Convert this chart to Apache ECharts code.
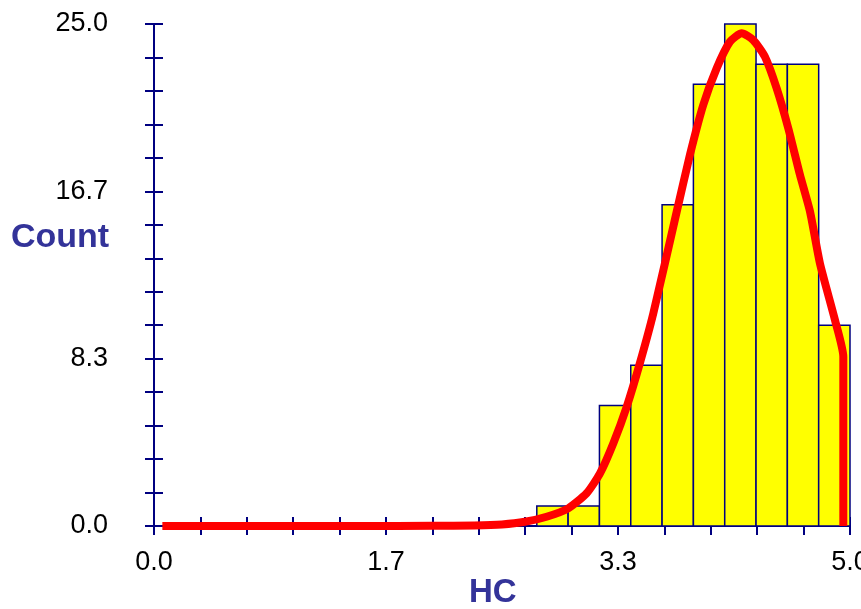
<!DOCTYPE html>
<html>
<head>
<meta charset="utf-8">
<script src="https://cdn.jsdelivr.net/npm/echarts@6/dist/echarts.min.js"></script>
<style>
  html, body { margin: 0; padding: 0; background: #ffffff; }
  #chart { width: 861px; height: 609px; }
</style>
</head>
<body>
<div id="chart"></div>
<script>
// Histogram bin edges and counts
const binEdges = [2.75, 2.975, 3.2, 3.425, 3.65, 3.875, 4.1, 4.325, 4.55, 4.775, 5.0];
const counts = [1, 1, 6, 8, 16, 22, 25, 23, 23, 10];

// Fitted curve
const curveX = [0.06, 0.5, 1.0, 1.5, 2.0, 2.3, 2.5, 2.665, 2.82, 2.976, 3.108, 3.204, 3.30, 3.396, 3.49, 3.587, 3.755, 3.85, 3.946, 4.042, 4.138, 4.222, 4.305, 4.389, 4.473, 4.557, 4.64, 4.713, 4.784, 4.892, 4.952, 4.952];
const curveY = [0, 0, 0, 0, 0.01, 0.03, 0.08, 0.21, 0.46, 0.88, 1.63, 2.62, 4.12, 5.94, 8.10, 10.59, 15.65, 18.48, 20.97, 22.79, 24.12, 24.54, 24.2, 23.37, 21.8, 19.8, 17.5, 15.65, 13.08, 10.26, 8.43, 0];

// Axis settings
const xMin = 0, xMax = 5, xLabelStep = 5 / 3;
const yMin = 0, yMax = 25, yLabelStep = 25 / 3;
const xTitle = 'HC';
const yTitle = 'Count';

const navy = '#000080';
const titleColor = '#333399';
const font = 'Liberation Sans, Arial, Helvetica, sans-serif';

const histData = counts.map((c, i) => [binEdges[i], binEdges[i + 1], c]);
const curveData = curveX.map((x, i) => [x, curveY[i]]);

const chart = echarts.init(document.getElementById('chart'));

function axisCommon(min, max, interval) {
  return {
    type: 'value', min: min, max: max, interval: interval,
    splitLine: { show: false },
    minorTick: { show: true, splitNumber: 5, length: 9, lineStyle: { color: navy, width: 2 } },
    minorSplitLine: { show: false }
  };
}

const option = {
  animation: false,
  backgroundColor: '#ffffff',
  grid: { left: 154, right: 11, top: 24, bottom: 83, containLabel: false, outerBoundsMode: 'none' },
  xAxis: [
    Object.assign(axisCommon(xMin, xMax, xLabelStep), {
      position: 'bottom',
      axisLine: { show: true, onZero: false, lineStyle: { color: navy, width: 2 } },
      axisTick: { show: true, length: 9, inside: false, lineStyle: { color: navy, width: 2 } },
      axisLabel: { show: true, margin: 23, color: '#000', fontSize: 27, fontFamily: font,
        formatter: v => v.toFixed(1), hideOverlap: false }
    }),
    Object.assign(axisCommon(xMin, xMax, xLabelStep), {
      position: 'bottom',
      axisLine: { show: false, onZero: false },
      axisTick: { show: true, length: 9, inside: true, lineStyle: { color: navy, width: 2 } },
      axisLabel: { show: false }
    })
  ],
  yAxis: [
    Object.assign(axisCommon(yMin, yMax, yLabelStep), {
      position: 'left',
      axisLine: { show: true, onZero: false, lineStyle: { color: navy, width: 2 } },
      axisTick: { show: true, length: 9, inside: false, lineStyle: { color: navy, width: 2 } },
      axisLabel: { show: true, margin: 46, color: '#000', fontSize: 27, fontFamily: font,
        formatter: v => v.toFixed(1) }
    }),
    Object.assign(axisCommon(yMin, yMax, yLabelStep), {
      position: 'left',
      axisLine: { show: false, onZero: false },
      axisTick: { show: true, length: 9, inside: true, lineStyle: { color: navy, width: 2 } },
      axisLabel: { show: false }
    })
  ],
  graphic: [
    { type: 'text', left: 11, top: 221, style: { text: yTitle, fill: titleColor, font: 'bold 34px ' + font } },
    { type: 'text', left: 469, top: 576, style: { text: xTitle, fill: titleColor, font: 'bold 33px ' + font } }
  ],
  series: [
    {
      type: 'custom',
      xAxisIndex: 0, yAxisIndex: 0,
      z: 3,
      data: histData,
      renderItem: function (params, api) {
        const p0 = api.coord([api.value(0), 0]);
        const p1 = api.coord([api.value(1), api.value(2)]);
        return {
          type: 'rect',
          shape: { x: p0[0], y: p1[1], width: p1[0] - p0[0], height: p0[1] - p1[1] },
          style: { fill: '#ffff00', stroke: navy, lineWidth: 1.5 }
        };
      }
    },
    {
      type: 'line',
      xAxisIndex: 0, yAxisIndex: 0,
      z: 5,
      data: curveData,
      showSymbol: false,
      symbol: 'none',
      smooth: 0.2,
      lineStyle: { color: '#ff0000', width: 8, cap: 'butt', join: 'round' }
    }
  ]
};
chart.setOption(option);
</script>
</body>
</html>
